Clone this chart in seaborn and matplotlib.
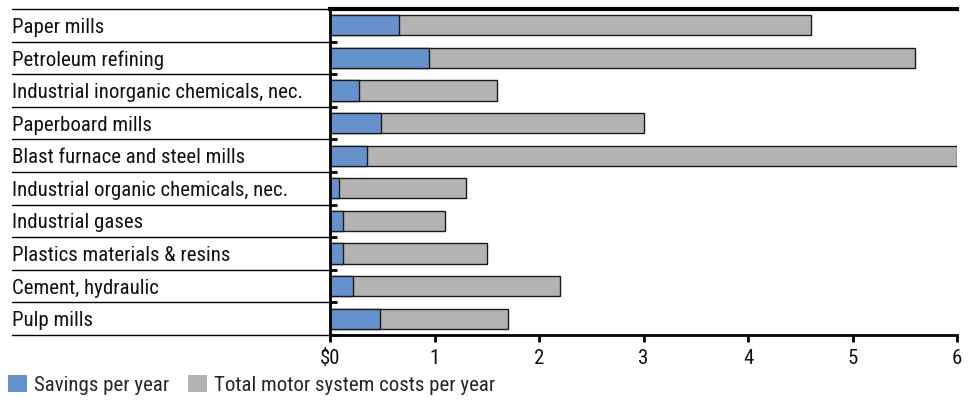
import matplotlib
matplotlib.use("Agg")
import matplotlib.pyplot as plt
from matplotlib import font_manager
from matplotlib.patches import Patch
from matplotlib.lines import Line2D
import matplotlib.transforms as mtransforms
import seaborn as sns
import pandas as pd

industries = [
    "Paper mills",
    "Petroleum refining",
    "Industrial inorganic chemicals, nec.",
    "Paperboard mills",
    "Blast furnace and steel mills",
    "Industrial organic chemicals, nec.",
    "Industrial gases",
    "Plastics materials & resins",
    "Cement, hydraulic",
    "Pulp mills",
]
total_costs = [4.6, 5.6, 1.6, 3.0, 6.0, 1.3, 1.1, 1.5, 2.2, 1.7]
savings = [0.66, 0.95, 0.28, 0.49, 0.35, 0.09, 0.12, 0.12, 0.22, 0.48]
x_ticks = [0, 1, 2, 3, 4, 5, 6]
x_tick_labels = ["$0", "1", "2", "3", "4", "5", "6"]

sns.set_theme(style="white")
installed = {f.name for f in font_manager.fontManager.ttflist}
family = [f for f in ["Liberation Sans Narrow", "Roboto Condensed", "Roboto", "DejaVu Sans"] if f in installed]
plt.rcParams["font.family"] = family

BLUE = "#6592CD"
GREY = "#B3B3B3"
EDGE = "#1a1a1a"
FS = 15

df = pd.DataFrame({"industry": industries, "total": total_costs, "savings": savings})

fig = plt.figure(figsize=(9.74, 4.0), dpi=100)
ax = fig.add_axes([330 / 974, 1 - 335 / 400, (957 - 330) / 974, (335 - 9) / 400])

sns.barplot(data=df, y="industry", x="total", color=GREY, orient="h",
            width=0.62, edgecolor=EDGE, linewidth=1.0, saturation=1, ax=ax)
sns.barplot(data=df, y="industry", x="savings", color=BLUE, orient="h",
            width=0.62, edgecolor=EDGE, linewidth=1.0, saturation=1, ax=ax)

n = len(industries)
ax.set_xlim(0, 6)
ax.set_ylim(n - 0.5, -0.5)
ax.set_xlabel("")
ax.set_ylabel("")

# x axis
ax.set_xticks(x_ticks)
ax.set_xticklabels(x_tick_labels, fontsize=FS)
ax.tick_params(axis="x", direction="out", length=5, width=2, color="black",
               pad=5, labelcolor="#111111", bottom=True)

# y axis: row labels at centres (left-aligned at the figure edge), ticks at row boundaries
ax.set_yticks(range(n))
ax.set_yticklabels(industries, fontsize=FS, ha="left")
ax.tick_params(axis="y", which="major", length=0, pad=229, labelcolor="#111111")
ax.set_yticks([i + 0.5 for i in range(-1, n)], minor=True)
ax.tick_params(axis="y", which="minor", direction="in", length=5, width=2,
               color="black", left=True)

ax.spines["right"].set_visible(False)
ax.spines["left"].set_linewidth(2)
ax.spines["left"].set_color("black")
ax.spines["bottom"].set_linewidth(2)
ax.spines["bottom"].set_color("black")
ax.spines["top"].set_linewidth(3)
ax.spines["top"].set_color("black")

# row separator rules in the label column
trans = mtransforms.blended_transform_factory(fig.transFigure, ax.transData)
for b in [i + 0.5 for i in range(-1, n)]:
    ax.add_line(Line2D([12 / 974, 330 / 974], [b, b], transform=trans,
                       color="black", linewidth=1.0, clip_on=False))

handles = [Patch(facecolor=BLUE, edgecolor="none", label="Savings per year"),
           Patch(facecolor=GREY, edgecolor="none", label="Total motor system costs per year")]
fig.legend(handles=handles, loc="center left", bbox_to_anchor=(8 / 974, 1 - 385 / 400),
           ncol=2, frameon=False, fontsize=FS, handlelength=0.9, handleheight=0.9,
           handletextpad=0.35, columnspacing=0.9, borderaxespad=0, borderpad=0)

fig.savefig("out.png", dpi=100)
